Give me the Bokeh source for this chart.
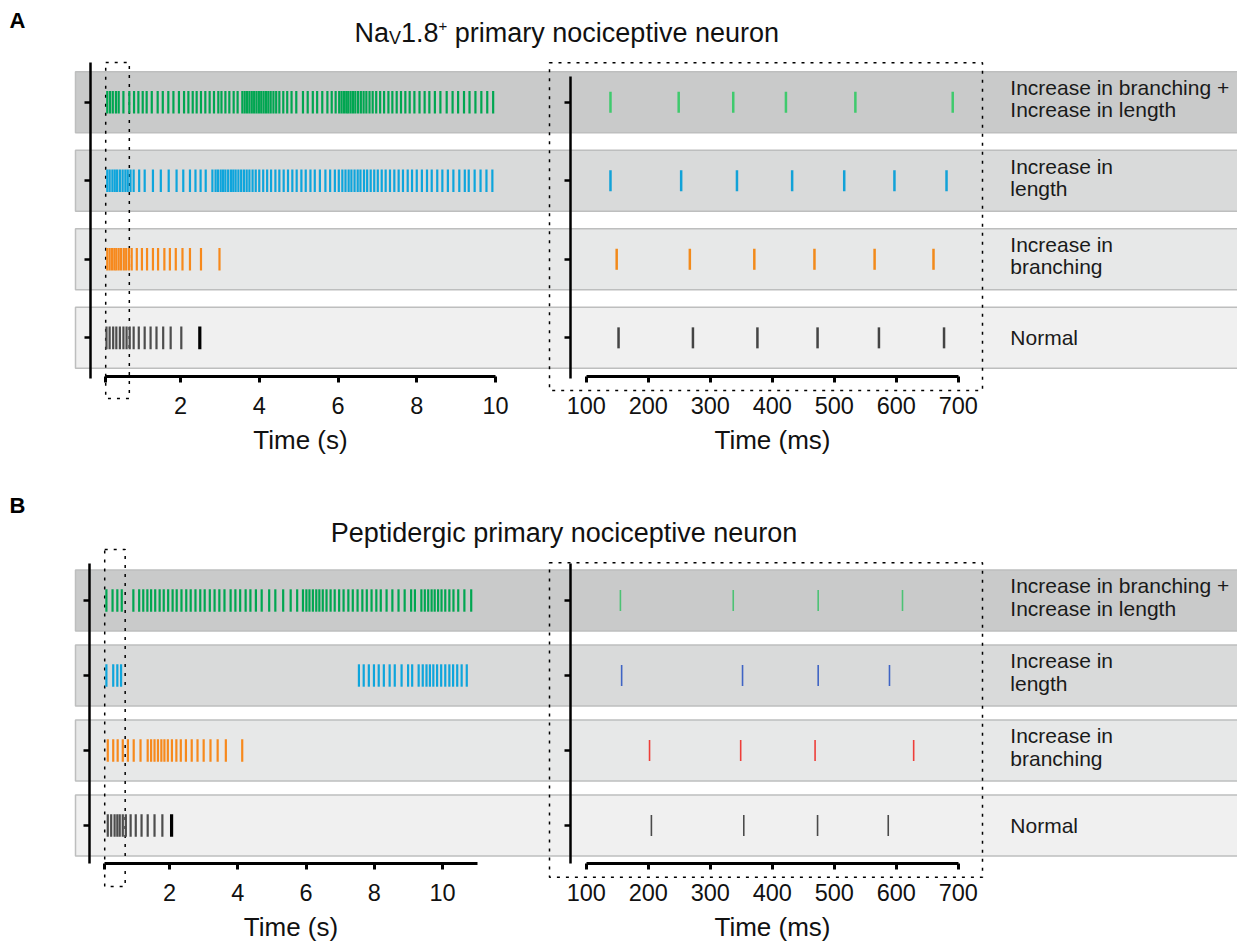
from bokeh.plotting import figure
from bokeh.models import Range1d, LinearAxis, FixedTicker, Label, ColumnDataSource
from bokeh.layouts import column
from bokeh.core.properties import value
from bokeh.embed import file_html
from bokeh.resources import INLINE

FONT = "Liberation Sans"
W = 1237
ORIGIN = 0  # page offset of the canvas

# ---------------- data ----------------
ROW_LABELS = ["Increase in branching +\nIncrease in length", "Increase in\nlength",
              "Increase in\nbranching", "Normal"]
ROW_Y = [3, 2, 1, 0]

TITLE_A_PARTS = ["Na", "V", "1.8", "+", "primary nociceptive neuron"]
TITLE_B = "Peptidergic primary nociceptive neuron"

SEC_TICKS = [0.1, 2, 4, 6, 8, 10]
MS_TICKS = [100, 200, 300, 400, 500, 600, 700]

# Panel A, spike times (s)
a_green_s = [0.14, 0.21, 0.28, 0.36, 0.43, 0.55, 0.70, 0.82, 0.93, 1.04, 1.14, 1.27, 1.42, 1.55, 1.69,
             1.82, 1.96, 2.09, 2.20, 2.31, 2.41, 2.52, 2.63, 2.74, 2.85, 2.96, 3.04, 3.14, 3.24, 3.35,
             3.45, 3.57, 3.63, 3.69, 3.75, 3.81, 3.87, 3.93, 3.99, 4.05, 4.11, 4.17, 4.23, 4.29, 4.36,
             4.43, 4.51, 4.61, 4.71, 4.82, 4.94, 5.11, 5.23, 5.36, 5.47, 5.60, 5.73, 5.84, 5.94, 6.03,
             6.09, 6.15, 6.21, 6.26, 6.32, 6.38, 6.44, 6.51, 6.58, 6.65, 6.72, 6.80, 6.88, 6.97, 7.07,
             7.17, 7.28, 7.38, 7.49, 7.60, 7.71, 7.82, 7.94, 8.07, 8.20, 8.32, 8.46, 8.60, 8.76, 8.91,
             9.05, 9.20, 9.34, 9.49, 9.64, 9.79, 9.94]
a_blue_s = [0.14, 0.20, 0.27, 0.33, 0.39, 0.46, 0.53, 0.60, 0.66, 0.73, 0.81, 0.95, 1.09, 1.30, 1.50,
            1.70, 1.90, 2.07, 2.24, 2.38, 2.51, 2.64, 2.81, 2.89, 2.95, 3.02, 3.08, 3.14, 3.21, 3.28,
            3.34, 3.40, 3.47, 3.54, 3.61, 3.68, 3.75, 3.83, 3.91, 4.00, 4.10, 4.20, 4.30, 4.41, 4.51,
            4.62, 4.73, 4.84, 4.95, 5.07, 5.18, 5.30, 5.41, 5.54, 5.68, 5.80, 5.92, 6.02, 6.11, 6.19,
            6.27, 6.34, 6.42, 6.50, 6.57, 6.66, 6.74, 6.83, 6.92, 7.01, 7.11, 7.21, 7.32, 7.43, 7.54,
            7.65, 7.77, 7.88, 8.00, 8.13, 8.26, 8.38, 8.52, 8.65, 8.79, 8.93, 9.08, 9.22, 9.32, 9.47,
            9.62, 9.77, 9.92]
a_orange_s = [0.14, 0.20, 0.26, 0.32, 0.37, 0.43, 0.49, 0.56, 0.62, 0.69, 0.76, 0.89, 1.02, 1.15, 1.30,
              1.43, 1.59, 1.73, 1.88, 2.05, 2.24, 2.52, 2.99]
a_black_s = [0.12, 0.20, 0.29, 0.37, 0.46, 0.55, 0.63, 0.71, 0.81, 0.94, 1.09, 1.24, 1.39, 1.56, 1.75,
             2.02, 2.49]

# Panel A, zoom 100-700 ms
a_green_ms = [139, 249, 337, 422, 534, 691]
a_blue_ms = [139, 253, 343, 432, 516, 597, 681]
a_orange_ms = [149, 267, 371, 468, 565, 660]
a_black_ms = [152, 272, 376, 473, 572, 677]

# Panel B, spike times (s)
b_green_s = [0.15, 0.33, 0.47, 0.60, 0.94, 1.11, 1.23, 1.35, 1.46, 1.58, 1.71, 1.83, 1.96, 2.09, 2.21,
             2.35, 2.49, 2.62, 2.76, 2.90, 3.03, 3.18, 3.32, 3.46, 3.61, 3.79, 3.93, 4.07, 4.23, 4.37,
             4.53, 4.70, 4.92, 5.10, 5.33, 5.55, 5.74, 5.91, 6.01, 6.10, 6.20, 6.30, 6.39, 6.49, 6.60,
             6.72, 6.84, 6.97, 7.10, 7.24, 7.37, 7.51, 7.65, 7.78, 7.92, 8.06, 8.19, 8.36, 8.53, 8.71,
             8.89, 9.08, 9.19, 9.38, 9.48, 9.58, 9.68, 9.77, 9.87, 9.97, 10.08, 10.20, 10.32, 10.46,
             10.64, 10.84]
b_blue_s = [0.15, 0.35, 0.47, 0.58, 7.55, 7.69, 7.84, 7.99, 8.13, 8.28, 8.45, 8.60, 8.80, 8.99, 9.11,
            9.30, 9.42, 9.53, 9.63, 9.73, 9.84, 9.96, 10.08, 10.20, 10.31, 10.43, 10.56, 10.71]
b_orange_s = [0.19, 0.35, 0.48, 0.63, 0.78, 0.95, 1.15, 1.36, 1.46, 1.56, 1.66, 1.76, 1.85, 1.95, 2.07,
              2.20, 2.33, 2.48, 2.65, 2.82, 3.00, 3.20, 3.41, 3.65, 4.13]
b_black_s = [0.19, 0.29, 0.39, 0.47, 0.54, 0.63, 0.72, 0.86, 1.01, 1.18, 1.36, 1.56, 1.79, 2.06]

# Panel B, zoom 100-700 ms
b_green_ms = [155, 337, 474, 610]
b_blue_ms = [157, 352, 474, 589]
b_red_ms = [202, 349, 469, 628]
b_black_ms = [205, 354, 473, 587]

# ---------------- styles ----------------
BAND_COLORS = ["#c9caca", "#d9dada", "#e7e8e8", "#f0f0f0"]
LEFT_COLORS = ["#00a651", "#0ea5dc", "#f7891c", "#4d4d4d"]
A_RIGHT_COLORS = ["#3fca6d", "#12a2d8", "#f28a1b", "#444444"]
B_RIGHT_COLORS = ["#4cc274", "#3f64c4", "#ee3e39", "#4a4a4a"]

# Arial / Liberation Sans advance widths (per 1000 em) for title composition
ADV = {"N": 722, "a": 556, "V": 667, "1": 556, ".": 278, "8": 556, "+": 584, " ": 278}


def style_axis(ax, lw):
    ax.axis_line_width = lw
    ax.axis_line_color = "black"
    ax.major_tick_line_width = lw
    ax.major_tick_line_color = "black"
    ax.major_tick_out = 6
    ax.major_tick_in = 0
    ax.minor_tick_out = 0
    ax.minor_tick_in = 0
    ax.major_label_text_font = FONT
    ax.major_label_text_font_size = "23.5px"
    ax.major_label_text_color = "#111111"
    ax.axis_label_text_font = FONT
    ax.axis_label_text_font_size = "26px"
    ax.axis_label_text_font_style = "normal"
    ax.axis_label_text_color = "#111111"


def build_panel(cfg, left_trains, right_trains, right_colors):
    top, H = cfg["top"], cfg["height"]

    def sx(px):
        return 0.1 + (px - cfg["s_px"]) / cfg["s_k"]

    def mx(px):
        return 100 + (px - 585.8) / 0.62

    def yy(py):
        return 3 - (py - cfg["row3"]) / cfg["step"]

    p = figure(width=W, height=H, x_range=Range1d(sx(ORIGIN), sx(ORIGIN + W)),
               y_range=Range1d(yy(top + H), yy(top)),
               x_axis_type=None, y_axis_type=None, toolbar_location=None,
               output_backend="svg", min_border=0, outline_line_color=None,
               background_fill_color="white", border_fill_color="white")
    p.extra_x_ranges = {"ms": Range1d(mx(ORIGIN), mx(ORIGIN + W))}

    # row bands
    hb = 30.5 / cfg["step"]
    p.quad(left=sx(75), right=sx(1260), bottom=[r - hb for r in ROW_Y], top=[r + hb for r in ROW_Y],
           fill_color=BAND_COLORS, line_color="#bdbebe", line_width=1.5)

    # dotted zoom boxes
    p.quad(left=0.1, right=0.7, bottom=yy(cfg["lbox"][1]), top=yy(cfg["lbox"][0]),
           fill_color=None, line_color="black", line_dash="3 6", line_width=1.5)
    p.quad(left=mx(549), right=mx(982), bottom=yy(cfg["rbox"][1]), top=yy(cfg["rbox"][0]),
           fill_color=None, line_color="black", line_dash="3 6", line_width=1.5, x_range_name="ms")

    # left spike trains
    hl = cfg["spike_h"] / cfg["step"]
    xs, y0, y1, cs, lw = [], [], [], [], []
    for k, (r, times, col) in enumerate(zip(ROW_Y, left_trains, LEFT_COLORS)):
        for i, t in enumerate(times):
            last_black = (k == 3 and i == len(times) - 1)
            xs.append(t)
            y0.append(r - hl)
            y1.append(r + hl)
            cs.append("#000000" if last_black else col)
            lw.append(3.2 if last_black else 2.2)
    src = ColumnDataSource(dict(x=xs, y0=y0, y1=y1, c=cs, w=lw))
    p.segment(x0="x", y0="y0", x1="x", y1="y1", line_color="c", line_width="w", source=src)

    # right (zoomed) spike trains
    hr = cfg["r_spike_h"] / cfg["step"]
    xs, y0, y1, cs = [], [], [], []
    for r, times, col in zip(ROW_Y, right_trains, right_colors):
        for t in times:
            xs.append(t)
            y0.append(r - hr)
            y1.append(r + hr)
            cs.append(col)
    src2 = ColumnDataSource(dict(x=xs, y0=y0, y1=y1, c=cs))
    p.segment(x0="x", y0="y0", x1="x", y1="y1", line_color="c", line_width=cfg["r_lw"],
              source=src2, x_range_name="ms")

    # x axes
    ax_s = LinearAxis(fixed_location=yy(cfg["xaxis_py"]), bounds=(0.1, cfg["sec_end"]),
                      ticker=FixedTicker(ticks=SEC_TICKS), axis_label="Time (s)",
                      major_label_overrides={0.1: ""})
    style_axis(ax_s, 3)
    ax_s.major_label_standoff = cfg["lab_standoff"]
    ax_s.axis_label_standoff = cfg["axlab_standoff"]
    p.add_layout(ax_s, "below")

    ax_m = LinearAxis(x_range_name="ms", fixed_location=yy(cfg["xaxis_py"]), bounds=(100, 700),
                      ticker=FixedTicker(ticks=MS_TICKS), axis_label="Time (ms)")
    style_axis(ax_m, 3)
    ax_m.major_label_standoff = cfg["lab_standoff"]
    ax_m.axis_label_standoff = cfg["axlab_standoff"]
    p.add_layout(ax_m, "below")

    # y axes
    blank = {r: "" for r in ROW_Y}
    ay_l = LinearAxis(fixed_location=sx(cfg["lx"]), bounds=(yy(cfg["ly"][1]), yy(cfg["ly"][0])),
                      ticker=FixedTicker(ticks=ROW_Y), major_label_overrides=blank)
    style_axis(ay_l, 2.5)
    p.add_layout(ay_l, "left")
    ay_r = LinearAxis(x_range_name="ms", fixed_location=mx(570.2),
                      bounds=(yy(cfg["ry"][1]), yy(cfg["ry"][0])),
                      ticker=FixedTicker(ticks=ROW_Y), major_label_overrides=blank)
    style_axis(ay_r, 2.5)
    p.add_layout(ay_r, "left")

    # row labels (two-line labels sit a little above the row centre)
    lsrc = ColumnDataSource(dict(y=ROW_Y, text=ROW_LABELS,
                                 dy=[-3.5 if "\n" in t else 0 for t in ROW_LABELS]))
    p.text(x=mx(1009.8), y="y", text="text", y_offset="dy", source=lsrc, x_range_name="ms",
           text_font=value(FONT), text_font_size=value("21px"), text_color="#1a1a1a",
           text_align="left", text_baseline="middle", text_line_height=0.96)

    # panel letter
    p.add_layout(Label(x=sx(9), y=yy(cfg["letter_py"]), text=cfg["letter"], text_font=FONT,
                       text_font_size="22px", text_font_style="bold", text_color="black",
                       text_baseline="alphabetic", text_align="left"))
    return p, sx, yy


cfg_a = dict(top=0, height=470, s_px=105.2, s_k=39.375, row3=101.7, step=78.55, xaxis_py=376,
             ly=(62, 378), ry=(75.7, 377.7), lx=90, lbox=(62, 398), rbox=(62.3, 390), sec_end=10.0,
             spike_h=11.3, r_spike_h=10.5, r_lw=2.5, lab_standoff=14, axlab_standoff=8,
             letter="A", letter_py=20)
cfg_b = dict(top=470, height=473, s_px=104.2, s_k=34.125, row3=600, step=75, xaxis_py=863,
             ly=(562.7, 863.3), ry=(562.7, 863.3), lx=89, lbox=(549, 886), rbox=(562.3, 876.7),
             sec_end=11.02, spike_h=11.2, r_spike_h=10.5, r_lw=1.6, lab_standoff=14, axlab_standoff=8,
             letter="B", letter_py=505)

pa, sxa, yya = build_panel(cfg_a, [a_green_s, a_blue_s, a_orange_s, a_black_s],
                           [a_green_ms, a_blue_ms, a_orange_ms, a_black_ms], A_RIGHT_COLORS)
pb, sxb, yyb = build_panel(cfg_b, [b_green_s, b_blue_s, b_orange_s, b_black_s],
                           [b_green_ms, b_blue_ms, b_red_ms, b_black_ms], B_RIGHT_COLORS)

# Title A with subscript V and superscript +
sizes = [27, 18, 27, 15, 27]
dys = [0, 5, 0, -7, 0]
gaps = [0, 0, 0, ADV[" "] * 27 / 1000.0, 0]
base_py = 32
offset = 0.0
for part, sz, dy, gap in zip(TITLE_A_PARTS, sizes, dys, gaps):
    pa.add_layout(Label(x=sxa(354), y=yya(base_py + dy), x_offset=offset, text=part,
                        text_font=FONT, text_font_size=f"{sz}px", text_color="#111111",
                        text_baseline="alphabetic", text_align="left"))
    offset += sum(ADV.get(ch, 278) for ch in part) * sz / 1000.0 + gap

pb.add_layout(Label(x=sxb(563.5), y=yyb(532), text=TITLE_B, text_font=FONT, text_font_size="27px",
                    text_color="#111111", text_baseline="alphabetic", text_align="center"))

layout = column(pa, pb, spacing=0)
open("out.html", "w").write(file_html(layout, INLINE))
